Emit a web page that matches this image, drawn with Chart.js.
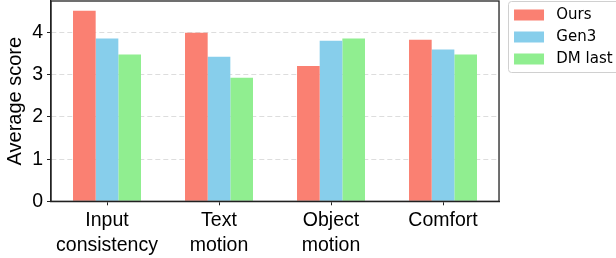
<!DOCTYPE html>
<html>
<head>
  <meta charset="utf-8">
  <title>Average score</title>
  <script src="https://cdn.jsdelivr.net/npm/chart.js"></script>
  <style>
    body { margin: 0; background: #fff; }
  </style>
</head>
<body>
  <canvas id="score-chart" width="616" height="258"></canvas>

<script>

var categories = [['Input', 'consistency'], ['Text', 'motion'], ['Object', 'motion'], 'Comfort'];
var seriesNames = ['Ours', 'Gen3', 'DM last'];
var ours = [4.52, 4.00, 3.21, 3.83];
var gen3 = [3.86, 3.43, 3.81, 3.60];
var dmLast = [3.48, 2.93, 3.86, 3.48];
var yTicks = [0, 1, 2, 3, 4];
var yMax = 4.75;

var tickFont = { family: 'Liberation Sans, Arial, sans-serif', size: 19.5, lineHeight: 1.27 };

// draws the box round the plot and the frame round the legend
var framePlugin = {
  id: 'frame',
  afterDraw: function(chart) {
    var ctx = chart.ctx, a = chart.chartArea, lg = chart.legend;
    ctx.save();
    ctx.strokeStyle = '#222';
    ctx.lineWidth = 1.3;
    ctx.strokeRect(a.left, a.top, a.right - a.left, a.bottom - a.top);
    ctx.strokeStyle = '#d0d0d0';
    ctx.lineWidth = 1;
    ctx.beginPath();
    ctx.roundRect(lg.left + 1.5, a.top + 0.5, lg.width + 20, 71, 3);
    ctx.stroke();
    ctx.restore();
  }
};

var chart = new Chart(document.getElementById('score-chart'), {
  type: 'bar',
  data: {
    labels: categories,
    datasets: [
      { label: seriesNames[0], data: ours, backgroundColor: '#FA8072', borderWidth: 0 },
      { label: seriesNames[1], data: gen3, backgroundColor: '#87CEEB', borderWidth: 0 },
      { label: seriesNames[2], data: dmLast, backgroundColor: '#90EE90', borderWidth: 0 }
    ]
  },
  options: {
    responsive: false,
    animation: false,
    layout: { padding: { top: 0.5, left: 0, right: -6.6, bottom: 0 } },
    datasets: { bar: { categoryPercentage: 0.607, barPercentage: 1.0 } },
    plugins: {
      tooltip: { enabled: false },
      legend: {
        position: 'right',
        align: 'start',
        maxWidth: 200,
        labels: {
          boxWidth: 30,
          boxHeight: 11,
          padding: 7,
          color: '#000',
          font: { family: 'DejaVu Sans', size: 15 },
          generateLabels: function(chart) {
            return Chart.defaults.plugins.legend.labels.generateLabels(chart).map(function(l) {
              l.text = ' ' + l.text;
              return l;
            });
          }
        }
      }
    },
    scales: {
      x: {
        offset: true,
        grid: { display: true, drawOnChartArea: false, offset: false, tickLength: 4, tickColor: '#222' },
        border: { display: true, color: '#222', width: 1.3 },
        ticks: { color: '#000', font: tickFont, padding: 3, maxRotation: 0 },
        afterFit: function(s) { s.height = 56.7; s.paddingLeft = 0; s.paddingRight = 0; }
      },
      y: {
        min: 0,
        max: yMax,
        afterBuildTicks: function(s) { s.ticks = yTicks.map(function(v) { return { value: v }; }); },
        grid: { color: '#dddddd', lineWidth: 1, tickLength: 4, tickColor: '#222' },
        border: { display: true, color: '#222', width: 1.3, dash: [5, 3] },
        ticks: { color: '#000', font: tickFont, padding: 4 },
        title: {
          display: true,
          text: 'Average score',
          color: '#000',
          font: { family: 'Liberation Sans, Arial, sans-serif', size: 20, lineHeight: 1.2 },
          padding: { top: 3, bottom: 0 }
        },
        afterFit: function(s) { s.width = 51; s.paddingTop = 1; s.paddingBottom = 0; }
      },
      gap: {
        type: 'linear',
        position: 'right',
        display: true,
        grid: { display: false },
        border: { display: false },
        ticks: { display: false },
        afterFit: function(s) { s.width = 8; s.paddingTop = 0; s.paddingBottom = 0; }
      }
    }
  },
  plugins: [framePlugin]
});

</script>

</body>
</html>
